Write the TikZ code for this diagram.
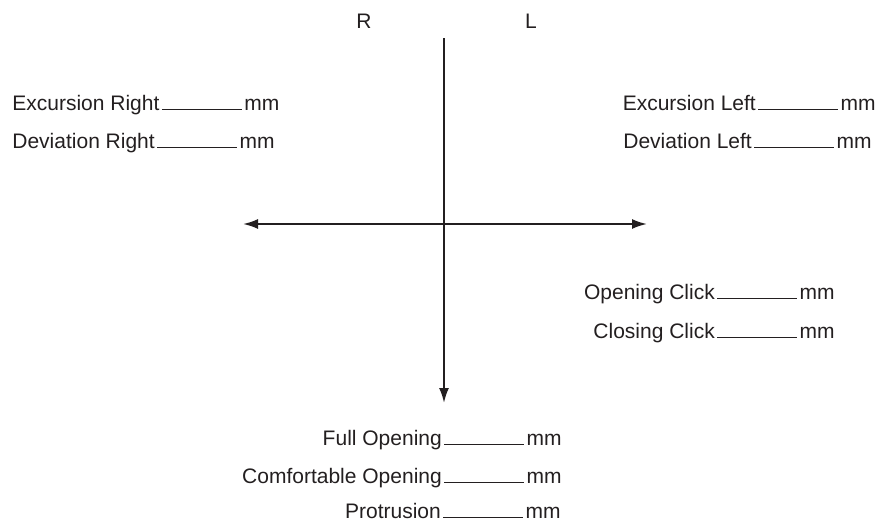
\documentclass[tikz,border=0pt]{standalone}
\usepackage{fontspec}
\setmainfont{Liberation Sans}
\usepackage{tikz}
\usetikzlibrary{arrows.meta, positioning}
\definecolor{ink}{HTML}{231F20}
\newcommand\Blank{\kern1.2pt\rule{40pt}{0.7pt}\kern1.2pt}
\tikzset{
  axis/.style = {line width=1pt, draw=ink},
  field/.style = {inner sep=0pt, text=ink, font=\fontsize{10.5}{12}\selectfont},
}

\begin{document}
\begin{tikzpicture}[x=0.5pt, y=-0.5pt, >={Latex[length=7.5pt, width=5pt]}]
                \useasboundingbox (0,0) rectangle (879,525);
                % end points of the two axes
                \coordinate (top) at (444,38);
                \coordinate (bottom) at (444,403);
                \coordinate (left) at (243,224);
                \coordinate (right) at (647,224);
                \draw [axis, <->] (left) -- (right);
                \draw [axis, ->] (top) -- (bottom);

                % side letters
                \node [field, anchor=base] (r) at (364,28) {R};
                \node [field, anchor=base] (l) at (531,28) {L};

                % lateral movements
                \node [field, anchor=base west] (excr) at (12,110) {Excursion Right\Blank mm};
                \node [field, anchor=base west] (devr) at (12,148) {Deviation Right\Blank mm};
                \node [field, anchor=base east] (excl) at (876,110) {Excursion Left\Blank mm};
                \node [field, anchor=base east] (devl) at (872,148) {Deviation Left\Blank mm};

                % joint sounds
                \node [field, anchor=base east] (openc) at (835,299) {Opening Click\Blank mm};
                \node [field, anchor=base east] (closec) at (835,338) {Closing Click\Blank mm};

                % vertical movements
                \node [field, anchor=base east] (full) at (562,445) {Full Opening\Blank mm};
                \node [field, anchor=base east] (comf) at (562,483) {Comfortable Opening\Blank mm};
                \node [field, anchor=base east] (prot) at (561,518) {Protrusion\Blank mm};
\end{tikzpicture}
\end{document}
